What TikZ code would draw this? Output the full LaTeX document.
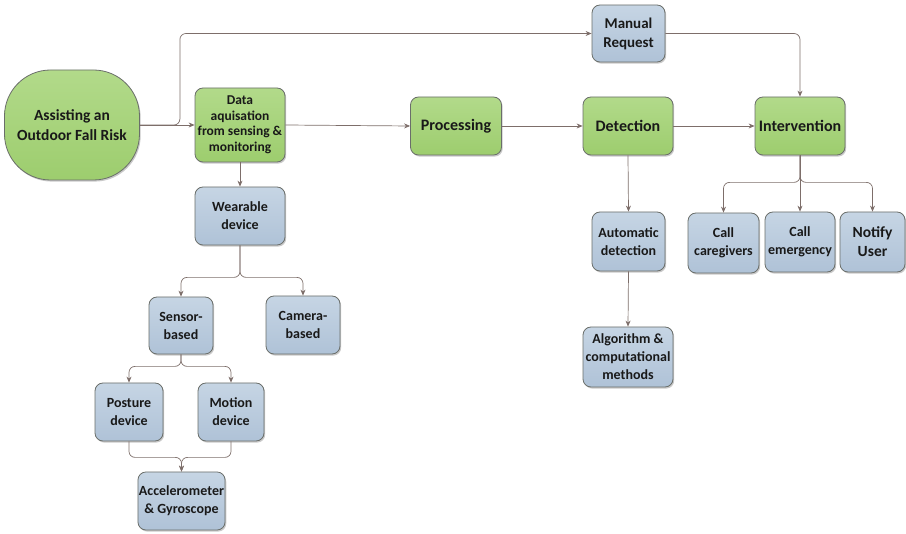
\documentclass[tikz,border=0pt]{standalone}
\usepackage{fontspec}
\setmainfont{Carlito}
\usetikzlibrary{arrows.meta,shadows}
\definecolor{greentop}{HTML}{B2DA8A}
\definecolor{greenbot}{HTML}{9DCD6E}
\definecolor{bluetop}{HTML}{C6D5E4}
\definecolor{bluebot}{HTML}{AFC2D7}
\definecolor{boxline}{HTML}{6A6E6A}
\definecolor{linkcol}{HTML}{7D6E6A}
\begin{document}
\begin{tikzpicture}[x=1pt,y=-1pt,
  box/.style={draw=boxline, line width=0.8pt, rounded corners=8pt, align=center,
    inner sep=1pt, text=black!90,
    drop shadow={shadow xshift=1.2pt,shadow yshift=-1.6pt,opacity=0.3,fill=black!70}},
  mainbox/.style={box, top color=greentop, bottom color=greenbot,
    font=\bfseries\fontsize{16}{19}\selectfont, minimum width=90, minimum height=58},
  subbox/.style={box, top color=bluetop, bottom color=bluebot,
    font=\bfseries\fontsize{14}{18}\selectfont},
  link/.style={draw=linkcol, line width=0.7pt, rounded corners=6pt},
  arr/.style={link, -{Stealth[length=6pt,width=5pt]}},
]
\useasboundingbox (0,0) rectangle (906,534);

% main flow
\node[mainbox, rounded corners=46pt, minimum width=135, minimum height=110,
      font=\bfseries\fontsize{15.5}{20}\selectfont] (start) at (72,125)
      {Assisting an\\Outdoor Fall Risk};
\node[mainbox, minimum width=90, minimum height=74,
      font=\bfseries\fontsize{13.5}{15.5}\selectfont] (data) at (240,125)
      {Data\\aquisation\\from sensing \&\\monitoring};
\node[mainbox, minimum width=91] (proc) at (456,126) {Processing};
\node[mainbox] (det) at (628,126) {Detection};
\node[mainbox] (int) at (800,126) {Intervention};

% manual request path
\node[subbox, font=\bfseries\fontsize{15}{19}\selectfont,
      minimum width=73, minimum height=57] (man) at (628.5,33.5) {Manual\\Request};

% sensing branch
\node[subbox, minimum width=90, minimum height=58] (wear) at (240,216) {Wearable\\device};
\node[subbox, minimum width=64, minimum height=57] (sens) at (181,325.5) {Sensor-\\based};
\node[subbox, minimum width=74, minimum height=58] (cam) at (303,325) {Camera-\\based};
\node[subbox, minimum width=68, minimum height=58] (post) at (129,412) {Posture\\device};
\node[subbox, minimum width=66, minimum height=58] (mot) at (231,412) {Motion\\device};
\node[subbox, minimum width=85, minimum height=58] (acc) at (181.5,501) {Accelerometer\\\& Gyroscope};

% detection branch
\node[subbox, minimum width=73, minimum height=59] (auto) at (628.5,241.5) {Automatic\\detection};
\node[subbox, minimum width=90, minimum height=60] (algo) at (628,357)
      {Algorithm \&\\computational\\methods};

% intervention branch
\node[subbox, minimum width=71, minimum height=60] (cg) at (723.5,243) {Call\\caregivers};
\node[subbox, minimum width=70, minimum height=60] (em) at (800,242) {Call\\emergency};
\node[subbox, font=\bfseries\fontsize{15.5}{19}\selectfont,
      minimum width=65, minimum height=60] (nu) at (872.5,242) {Notify\\User};

% connectors
\draw[arr] (start.east) -- (data.west);
\draw[arr] (start.east) -- ++(40,0) |- (man.west);
\draw[arr] (data.east) -- (proc.west);
\draw[arr] (proc.east) -- (det.west);
\draw[arr] (det.east) -- (int.west);
\draw[arr] (man.east) -| (int.north);

\draw[arr] (data.south) -- (wear.north);
\draw[arr] (wear.south) -- ++(0,32) -| (sens.north);
\draw[arr] (wear.south) -- ++(0,32) -| (cam.north);
\draw[arr] (sens.south) -- ++(0,12) -| (post.north);
\draw[arr] (sens.south) -- ++(0,12) -| (mot.north);
\draw[arr] (post.south) -- ++(0,16) -| (acc.north);
\draw[arr] (mot.south) -- ++(0,16) -| (acc.north);

\draw[arr] (det.south) -- (auto.north);
\draw[arr] (auto.south) -- (algo.north);

\draw[arr] (int.south) -- ++(0,27) -| (cg.north);
\draw[arr] (int.south) -- (em.north);
\draw[arr] (int.south) -- ++(0,27) -| (nu.north);
\end{tikzpicture}
\end{document}
